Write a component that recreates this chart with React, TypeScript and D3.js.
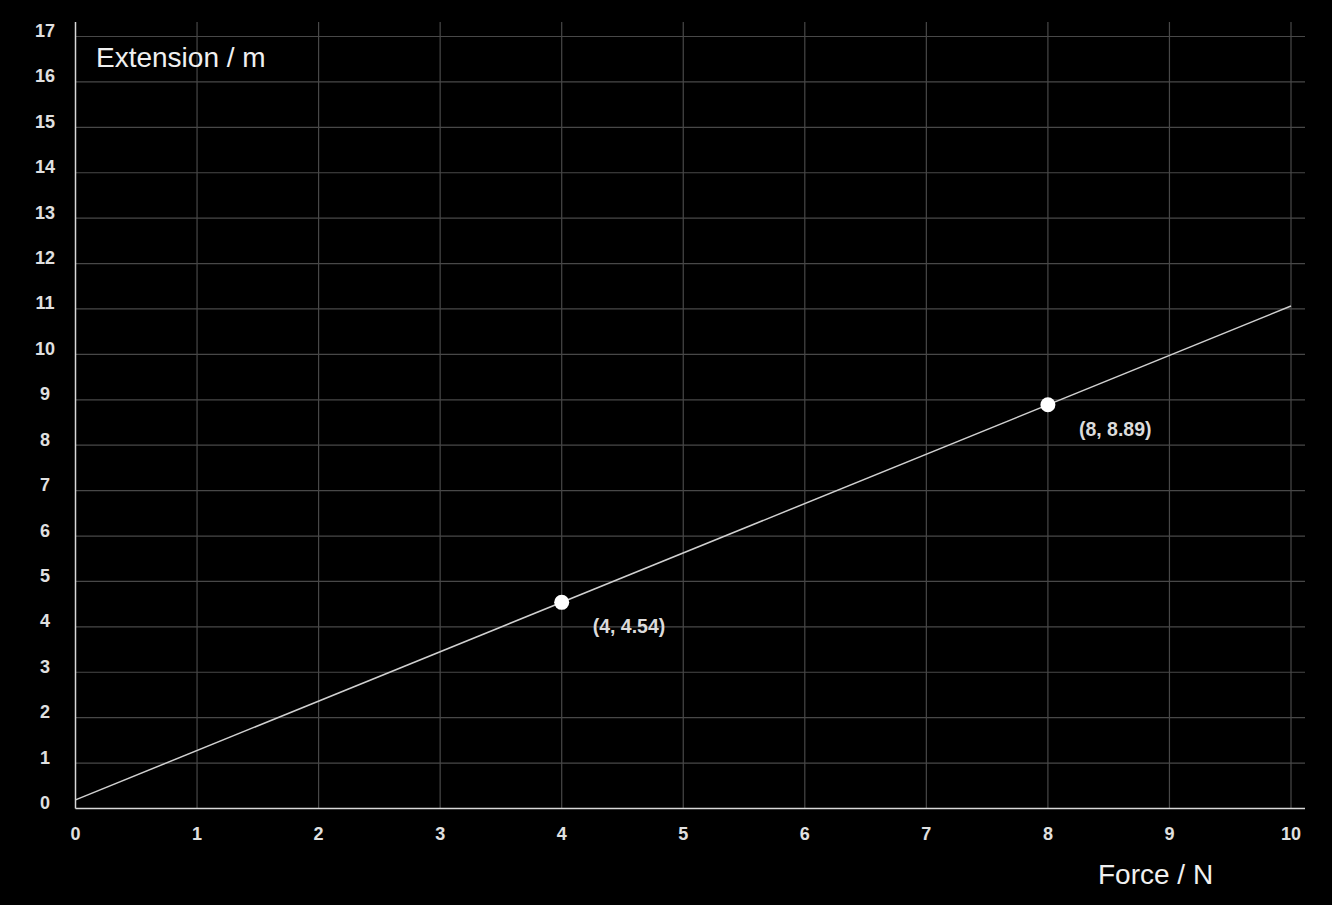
import React from "react";
import * as d3 from "d3";

const xTicks = [0, 1, 2, 3, 4, 5, 6, 7, 8, 9, 10];
const yTicks = [0, 1, 2, 3, 4, 5, 6, 7, 8, 9, 10, 11, 12, 13, 14, 15, 16, 17];
const lineX = [0, 10];
const lineY = [0.19, 11.065];
const pointX = [4, 8];
const pointY = [4.54, 8.89];
const pointLabels = ["(4, 4.54)", "(8, 8.89)"];
const xTitle = "Force / N";
const yTitle = "Extension / m";

const W = 1332;
const H = 905;
const FONT = "'Liberation Sans', Arial, Helvetica, sans-serif";

export default function App() {
  const x = d3.scaleLinear().domain([0, 10]).range([75.5, 1291]);
  const y = d3.scaleLinear().domain([0, 17]).range([808.5, 36.5]);
  const gridRight = 1305;
  const gridTop = 22;
  const line = d3
    .line<number>()
    .x((d) => x(lineX[d]))
    .y((d) => y(lineY[d]));

  return (
    <div style={{ position: "fixed", left: 0, top: 0, width: W, height: H, background: "#000" }}>
      <svg width={W} height={H} style={{ display: "block" }}>
        <rect x={0} y={0} width={W} height={H} fill="#000" />
        {yTicks.slice(1).map((t) => (
          <line key={"hy" + t} x1={x(0)} x2={gridRight} y1={y(t)} y2={y(t)} stroke="#484848" strokeWidth={1.2} />
        ))}
        {xTicks.slice(1).map((t) => (
          <line key={"vx" + t} x1={x(t)} x2={x(t)} y1={gridTop} y2={y(0)} stroke="#484848" strokeWidth={1.2} />
        ))}
        <line x1={x(0)} x2={x(0)} y1={gridTop} y2={y(0)} stroke="#d8d8d8" strokeWidth={1.5} />
        <line x1={x(0)} x2={gridRight} y1={y(0)} y2={y(0)} stroke="#d8d8d8" strokeWidth={1.5} />
        {yTicks.map((t) => (
          <text
            key={"yl" + t}
            x={45}
            y={y(t) + 0.5}
            textAnchor="middle"
            fill="#e0e0e0"
            fontFamily={FONT}
            fontWeight="bold"
            fontSize={18}
          >
            {t}
          </text>
        ))}
        {xTicks.map((t) => (
          <text
            key={"xl" + t}
            x={x(t)}
            y={840}
            textAnchor="middle"
            fill="#e0e0e0"
            fontFamily={FONT}
            fontWeight="bold"
            fontSize={18}
          >
            {t}
          </text>
        ))}
        <path d={line([0, 1]) || ""} fill="none" stroke="#d0d0d0" strokeWidth={1.5} />
        {pointX.map((px, i) => (
          <g key={"p" + i}>
            <circle cx={x(px)} cy={y(pointY[i])} r={7.5} fill="#fff" />
            <text
              x={x(px) + 31}
              y={y(pointY[i]) + 31}
              fill="#dcdcdc"
              fontFamily={FONT}
              fontWeight="bold"
              fontSize={19.5}
            >
              {pointLabels[i]}
            </text>
          </g>
        ))}
        <text x={96} y={67} fill="#f0f0f0" fontFamily={FONT} fontSize={28}>
          {yTitle}
        </text>
        <text x={1098} y={884} fill="#f0f0f0" fontFamily={FONT} fontSize={28}>
          {xTitle}
        </text>
      </svg>
    </div>
  );
}
